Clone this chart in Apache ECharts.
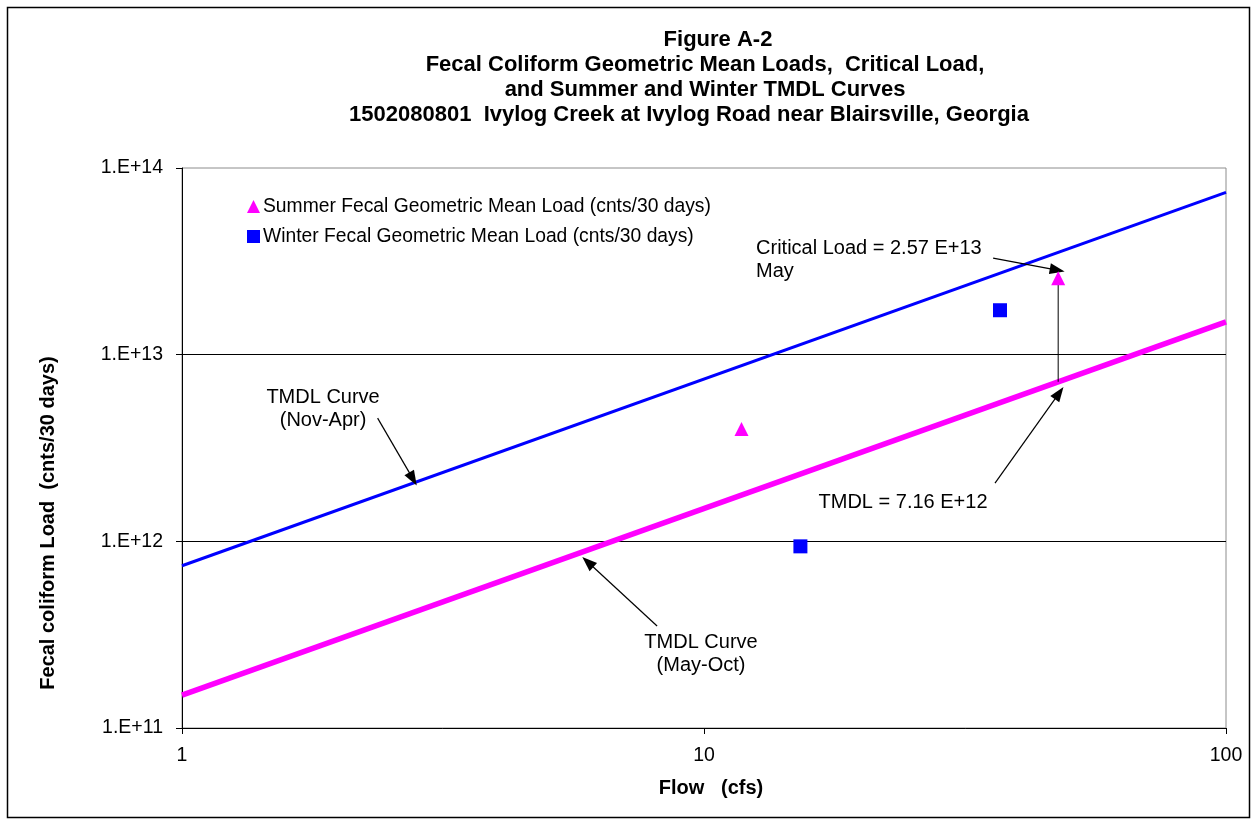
<!DOCTYPE html>
<html><head><meta charset="utf-8">
<script src="https://cdn.jsdelivr.net/npm/echarts@6/dist/echarts.min.js"></script>
<style>html,body{margin:0;padding:0;background:#fff}#c{width:1258px;height:822px}</style>
</head><body><div id="c"></div>
<script>
// ---- data ----
const titleLines = [
  'Figure A-2',
  'Fecal Coliform Geometric Mean Loads,  Critical Load,',
  'and Summer and Winter TMDL Curves',
  '1502080801  Ivylog Creek at Ivylog Road near Blairsville, Georgia'
];
const xTickLabels = ['1', '10', '100'];
const yTickLabels = ['1.E+11', '1.E+12', '1.E+13', '1.E+14'];
const summerName = 'Summer Fecal Geometric Mean Load (cnts/30 days)';
const winterName = 'Winter Fecal Geometric Mean Load (cnts/30 days)';
const summerPoints = [[11.8, 4.0e12], [47.7, 2.57e13]];
const winterPoints = [[15.3, 9.4e11], [36.9, 1.73e13]];
const winterTmdlCurve = [[1, 7.4e11], [100, 7.4e13]];
const summerTmdlCurve = [[1, 1.5e11], [100, 1.5e13]];
const criticalLink = [[47.7, 7.16e12], [47.7, 2.57e13]];
const arrowLines = [
  [[35.8, 3.29e13], [47.5, 2.84e13]],
  [[36.1, 2.05e12], [47.9, 6.23e12]],
  [[2.37, 4.57e12], [2.77, 2.16e12]],
  [[8.13, 3.52e11], [5.99, 7.75e11]]
];
const noteTexts = ['Critical Load = 2.57 E+13\nMay', 'TMDL = 7.16 E+12', 'TMDL Curve\n(Nov-Apr)', 'TMDL Curve\n(May-Oct)'];
const notePositions = [[12.58, 3.21e13], [24.06, 1.62e12], [1.863, 5.11e12], [9.87, 2.49e11]];
const noteAlign = ['left', 'center', 'center', 'center'];
const xAxisTitle = 'Flow   (cfs)';
const yAxisTitle = 'Fecal coliform Load  (cnts/30 days)';

// ---- chart ----
const FONT = '"Liberation Sans", Arial, sans-serif';
const chart = echarts.init(document.getElementById('c'), null, {renderer: 'canvas'});

const titleCenters = [718, 705, 705, 689];
const titleTops = [29, 54, 79, 104];
const titles = titleLines.map((t, i) => ({
  text: t, left: titleCenters[i], top: titleTops[i], textAlign: 'center',
  padding: 0,
  textStyle: {fontFamily: FONT, fontWeight: 'bold', fontSize: 22, lineHeight: 22, color: '#000'}
}));

const option = {
  animation: false,
  backgroundColor: '#fff',
  title: titles,
  grid: {left: 182, top: 168, right: 32, bottom: 94, show: true, borderColor: '#8c8c8c', borderWidth: 1, backgroundColor: 'transparent'},
  legend: {
    orient: 'vertical', left: 242, top: 192, itemGap: 11, itemWidth: 13, itemHeight: 13,
    data: [summerName, winterName],
    textStyle: {fontFamily: FONT, fontSize: 19.3, color: '#000', lineHeight: 19, padding: [0, 0, 0, -2]},
    selectedMode: false
  },
  xAxis: {
    type: 'log', logBase: 10, min: 1, max: 100,
    name: xAxisTitle, nameLocation: 'middle', nameGap: 50,
    nameTextStyle: {fontFamily: FONT, fontWeight: 'bold', fontSize: 20, color: '#000', padding: [0, 0, 0, 14]},
    axisLine: {lineStyle: {color: '#000', width: 1}},
    axisTick: {show: true, inside: false, length: 6, lineStyle: {color: '#000'}},
    minorTick: {show: false},
    axisLabel: {
      margin: 18, fontFamily: FONT, fontSize: 19.5, color: '#000',
      formatter: v => xTickLabels[Math.round(Math.log10(v))]
    },
    splitLine: {show: false}
  },
  yAxis: {
    type: 'log', logBase: 10, min: 1e11, max: 1e14,
    axisLine: {show: true, lineStyle: {color: '#000', width: 1}},
    axisTick: {show: true, inside: false, length: 6, lineStyle: {color: '#000'}},
    minorTick: {show: false},
    axisLabel: {
      margin: 19, fontFamily: FONT, fontSize: 19.5, color: '#000',
      formatter: v => yTickLabels[Math.round(Math.log10(v)) - 11]
    },
    splitLine: {show: true, showMinLine: false, showMaxLine: false, lineStyle: {color: '#000', width: 1}}
  },
  graphic: [
    {type: 'rect', shape: {x: 7.5, y: 7.5, width: 1242, height: 810}, style: {fill: 'none', stroke: '#000', lineWidth: 1.5}, silent: true, z: 100},
    {type: 'text', x: 48, y: 523, rotation: Math.PI / 2,
     style: {text: yAxisTitle, font: 'bold 20px ' + FONT, fill: '#000', align: 'center', verticalAlign: 'middle'}, silent: true}
  ],
  series: [
    {
      name: 'TMDL Curve (Nov-Apr)', type: 'line', data: winterTmdlCurve, showSymbol: false, symbol: 'none',
      lineStyle: {color: '#0000ff', width: 3}, z: 2, silent: true
    },
    {
      name: 'TMDL Curve (May-Oct)', type: 'line', data: summerTmdlCurve, showSymbol: false, symbol: 'none',
      lineStyle: {color: '#ff00ff', width: 5.5}, z: 2, silent: true
    },
    {
      name: 'Critical link', type: 'line', data: criticalLink, showSymbol: false, symbol: 'none',
      lineStyle: {color: '#000', width: 1}, z: 3, silent: true,
      markLine: {
        silent: true, symbol: ['none', 'triangle'], symbolSize: [11, 15],
        lineStyle: {color: '#000', width: 1.2, type: 'solid'}, itemStyle: {color: '#000'}, label: {show: false},
        data: arrowLines.map(a => [{coord: a[0]}, {coord: a[1]}])
      }
    },
    {
      name: 'Notes', type: 'scatter', symbolSize: 0, z: 5, silent: true, itemStyle: {opacity: 1},
      data: notePositions.map((p, i) => ({value: p, name: noteTexts[i],
        label: {show: true, formatter: noteTexts[i], position: noteAlign[i] === 'left' ? 'right' : 'inside', distance: 0,
          align: noteAlign[i], verticalAlign: 'middle', fontFamily: FONT, fontSize: 20, color: '#000', lineHeight: 23}}))
    },
    {
      name: summerName, type: 'scatter', data: summerPoints, symbol: 'triangle', symbolSize: 14,
      itemStyle: {color: '#ff00ff', opacity: 1}, z: 6
    },
    {
      name: winterName, type: 'scatter', data: winterPoints, symbol: 'rect', symbolSize: 14,
      itemStyle: {color: '#0000ff', opacity: 1}, z: 6
    }
  ]
};
chart.setOption(option);
</script></body></html>
